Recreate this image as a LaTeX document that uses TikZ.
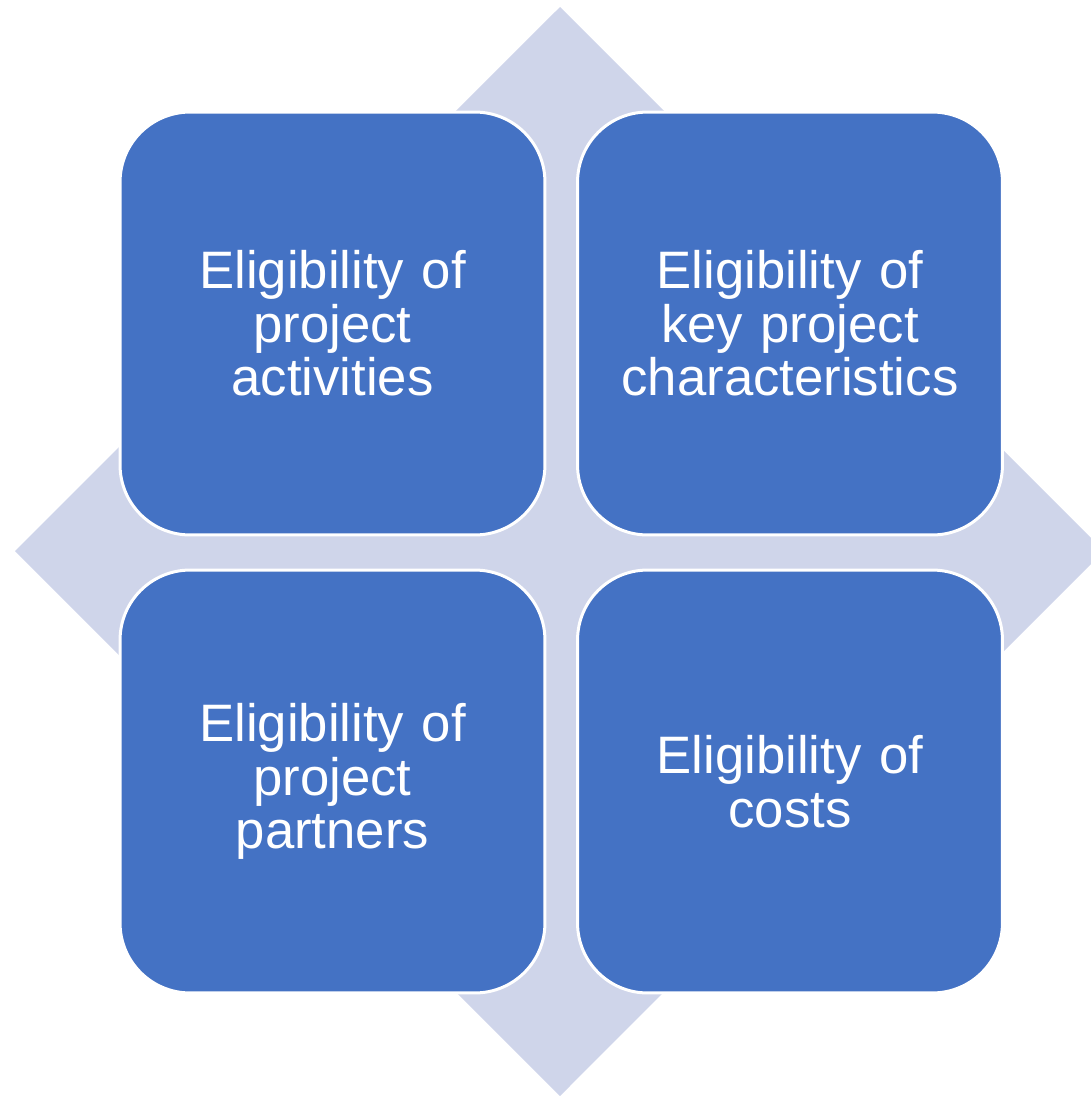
\documentclass[tikz,border=0pt]{standalone}
\usepackage{fontspec}
\setmainfont{Liberation Sans}
\usepackage{tikz}
\usetikzlibrary{positioning}
\definecolor{diamondfill}{HTML}{CFD5EA}
\definecolor{boxfill}{HTML}{4472C4}

\tikzset{
  critbox/.style={draw=white, line width=0.06cm, fill=boxfill, text=white,
    rounded corners=1.4cm, minimum width=8.5cm, minimum height=8.46cm,
    text width=8cm, align=center, inner sep=0pt,
    font=\fontsize{30pt}{30.4pt}\selectfont}
}

\begin{document}
\begin{tikzpicture}[x=0.02cm, y=-0.02cm]
\useasboundingbox (0,0) rectangle (1091,1096);
\clip (0,0) rectangle (1091,1096);
% background diamond (right tip runs off the page)
\fill[diamondfill] (560,7) -- (1104,551) -- (560,1096) -- (15,551) -- cycle;
% the four criteria
\node[critbox] (Activities) at (332.5,323.5) {Eligibility of\\project\\activities};
\node[critbox] (Characteristics) at (790,323.5) {Eligibility of\\key project\\characteristics};
\node[critbox] (Partners) at (332.5,781.5) {Eligibility of\\project\\partners};
\node[critbox] (Costs) at (790,781.5) {Eligibility of\\costs};
\end{tikzpicture}
\end{document}
